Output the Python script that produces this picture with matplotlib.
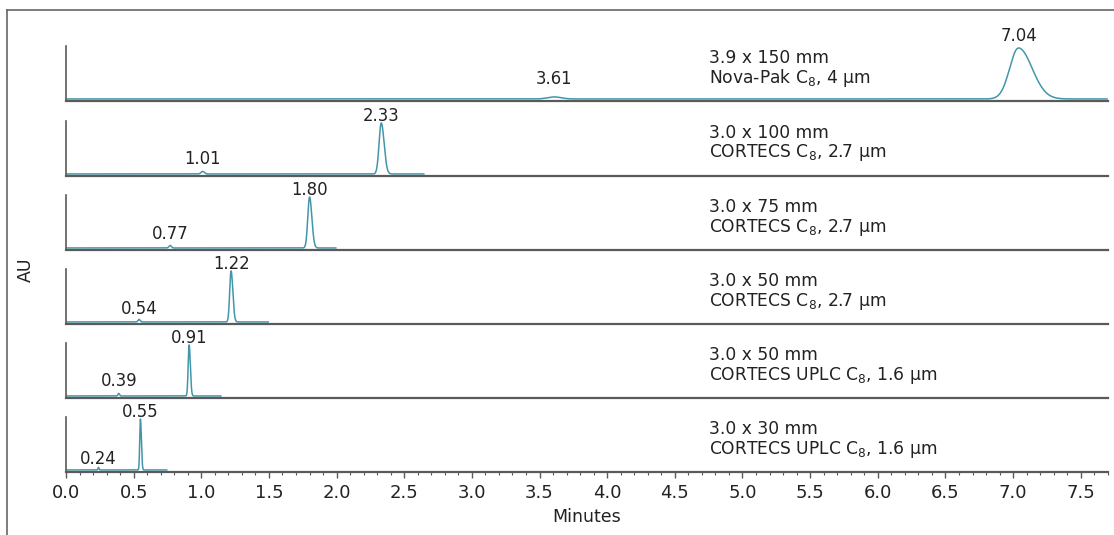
import numpy as np
import matplotlib
matplotlib.use("Agg")
import matplotlib.pyplot as plt
from matplotlib.ticker import MultipleLocator

plt.rcParams['font.family'] = ['DejaVu Sans']
plt.rcParams['mathtext.fontset'] = 'dejavusans'

# column descriptions, top to bottom
col_size = ["3.9 x 150 mm", "3.0 x 100 mm", "3.0 x 75 mm",
            "3.0 x 50 mm", "3.0 x 50 mm", "3.0 x 30 mm"]
col_phase = ["Nova-Pak C$_8$, 4 µm", "CORTECS C$_8$, 2.7 µm",
             "CORTECS C$_8$, 2.7 µm", "CORTECS C$_8$, 2.7 µm",
             "CORTECS UPLC C$_8$, 1.6 µm", "CORTECS UPLC C$_8$, 1.6 µm"]

# run length of each trace (min)
run_end = [7.7, 2.65, 2.0, 1.5, 1.15, 0.75]

# small (first) peak: retention time, height, sigma
rt_small = [3.61, 1.01, 0.77, 0.54, 0.39, 0.24]
h_small = [0.04, 0.05, 0.05, 0.05, 0.05, 0.05]
sd_small = [0.05, 0.012, 0.009, 0.008, 0.006, 0.004]

# main peak: retention time, height, sigma front / tail
rt_main = [7.04, 2.33, 1.80, 1.22, 0.91, 0.55]
h_main = [1.0, 1.0, 1.0, 1.0, 1.0, 1.0]
sd_front = [0.065, 0.016, 0.013, 0.010, 0.007, 0.005]
sd_tail = [0.10, 0.021, 0.017, 0.013, 0.009, 0.007]

x_ticks = np.arange(0, 7.51, 0.5)

W, H = 1114, 535
fig = plt.figure(figsize=(W / 100, H / 100), dpi=100)

teal = '#4396aa'
grey = '#5a5a5a'
txt = '#222222'

# panel geometry in pixels
x_left, x_right = 66, 1108
baselines = [101, 176, 250, 324, 398, 472]
small_lbl_px = [17, 12, 11, 10, 12, 8]   # gap of small-peak label above axis
main_lbl_px = [7, 2, 2, 2, 2, 2]         # gap of main-peak label above apex
ax_h = 70
ppu = 51.0  # pixels per unit of signal
y0 = -0.04
y1 = y0 + ax_h / ppu
xmax = (x_right - x_left) / 135.3


def peak(t, rt, h, s1, s2):
    s = np.where(t < rt, s1, s2)
    return h * np.exp(-0.5 * ((t - rt) / s) ** 2)


for i in range(6):
    b = baselines[i]
    ax = fig.add_axes([x_left / W, 1 - b / H, (x_right - x_left) / W, ax_h / H])
    ax.set_xlim(0, xmax)
    ax.set_ylim(y0, y1)
    ax.patch.set_alpha(0)
    for s in ['top', 'right']:
        ax.spines[s].set_visible(False)
    ax.spines['bottom'].set_color(grey)
    ax.spines['bottom'].set_linewidth(1.6)
    ax.spines['left'].set_color(grey)
    ax.spines['left'].set_linewidth(1.2)
    ax.spines['left'].set_bounds(y0, y0 + 55 / ppu)
    ax.set_yticks([])

    t = np.linspace(0, run_end[i], 3000)
    sig = peak(t, rt_small[i], h_small[i], sd_small[i], sd_small[i])
    sig = sig + peak(t, rt_main[i], h_main[i], sd_front[i], sd_tail[i])
    ax.plot(t, sig, color=teal, lw=1.1, solid_capstyle='butt')

    ax.annotate(f"{rt_main[i]:.2f}", xy=(rt_main[i], h_main[i]),
                xytext=(0, main_lbl_px[i] * 0.72), textcoords='offset points',
                ha='center', va='baseline', fontsize=11.9, color=txt)
    ax.annotate(f"{rt_small[i]:.2f}", xy=(rt_small[i], y0),
                xytext=(0, small_lbl_px[i] * 0.72), textcoords='offset points',
                ha='center', va='baseline', fontsize=11.9, color=txt)

    ax.text(4.75, y0 + 43 / ppu, col_size[i], ha='left', va='center',
            fontsize=12.3, color=txt)
    ax.text(4.75, y0 + 23 / ppu, col_phase[i], ha='left', va='center',
            fontsize=12.3, color=txt)

    if i < 5:
        ax.set_xticks([])
    else:
        ax.set_xticks(x_ticks)
        ax.set_xticklabels([f"{v:.1f}" for v in x_ticks])
        ax.xaxis.set_minor_locator(MultipleLocator(0.1))
        ax.tick_params(axis='x', which='major', length=4, width=1.0,
                       color=grey, labelsize=13, labelcolor=txt, pad=5)
        ax.tick_params(axis='x', which='minor', length=2.5, width=0.8,
                       color=grey)
        ax.set_xlabel("Minutes", fontsize=12.5, color=txt, labelpad=4)

fig.text(26 / W, 1 - 270 / H, "AU", rotation=90, ha='center', va='center',
         fontsize=12.5, color=txt)

# outer frame (top and left)
fig.add_artist(plt.Line2D([7 / W, 1], [1 - 10 / H, 1 - 10 / H],
                          transform=fig.transFigure, color='#666666', lw=1.2))
fig.add_artist(plt.Line2D([7 / W, 7 / W], [0, 1 - 10 / H],
                          transform=fig.transFigure, color='#666666', lw=1.2))

fig.savefig("out.png", dpi=100)
